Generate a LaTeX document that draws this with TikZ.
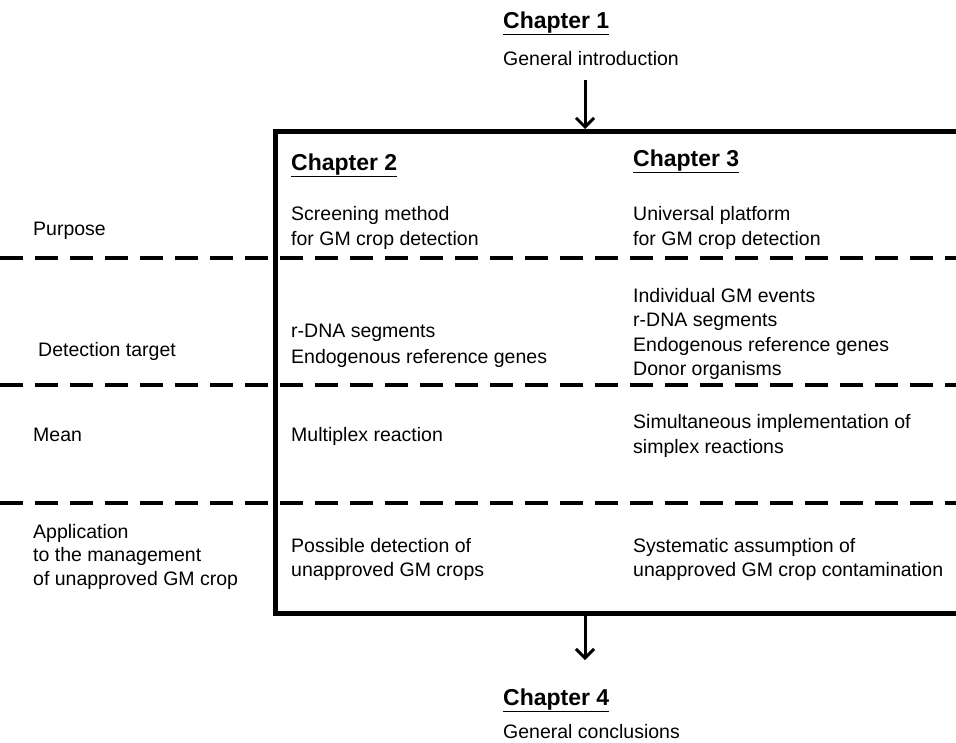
\documentclass[tikz,border=0pt]{standalone}
\usepackage{fontspec}
\setmainfont{Liberation Sans}
\usetikzlibrary{arrows.meta}
\begin{document}
\begin{tikzpicture}[x=1pt,y=-1pt,
  body/.style={anchor=base west,inner sep=0pt,font=\fontsize{19.5}{23}\selectfont},
  chap/.style={anchor=base west,inner sep=0pt,font=\fontsize{23}{27}\selectfont\bfseries},
  frame/.style={line width=5pt},
  sepline/.style={line width=4.5pt,dash pattern=on 23pt off 12pt,dash phase=0pt},
  flow/.style={line width=3pt,-{Straight Barb[length=9pt,width=18pt,line width=3pt]}}]
\useasboundingbox (0,0) rectangle (956,742);
% separators
\coordinate (s1a) at (0,258);   \coordinate (s1b) at (960,258);
\coordinate (s2a) at (0,385);   \coordinate (s2b) at (960,385);
\coordinate (s3a) at (0,503);   \coordinate (s3b) at (960,503);
\draw[sepline] (s1a) -- (s1b);
\draw[sepline] (s2a) -- (s2b);
\draw[sepline] (s3a) -- (s3b);
% frame
\coordinate (ftr) at (965,131); \coordinate (ftl) at (275,131);
\coordinate (fbl) at (275,613); \coordinate (fbr) at (965,613);
\draw[frame] (ftr) -- (ftl) -- (fbl) -- (fbr);
% arrows
\coordinate (a1s) at (585,80);  \coordinate (a1e) at (585,129);
\coordinate (a2s) at (585,613); \coordinate (a2e) at (585,660);
\draw[flow] (a1s) -- (a1e);
\draw[flow] (a2s) -- (a2e);
% chapter 1 and 4
\node[chap] (c1) at (503,28) {\underline{Chapter 1}};
\node[body] (c1t) at (503,65) {General introduction};
\node[chap] (c4) at (503,705) {\underline{Chapter 4}};
\node[body] (c4t) at (503,738) {General conclusions};
% headers
\node[chap] (c2) at (291,170) {\underline{Chapter 2}};
\node[chap] (c3) at (633,166) {\underline{Chapter 3}};
% row labels
\node[body] (rp) at (33,235) {Purpose};
\node[body] (rd) at (38,356) {Detection target};
\node[body] (rm) at (33,441) {Mean};
\node[body] (ra1) at (33,538) {Application};
\node[body] (ra2) at (33,561) {to the management};
\node[body] (ra3) at (33,585) {of unapproved GM crop};
% chapter 2 column
\node[body] (p21) at (291,220) {Screening method};
\node[body] (p22) at (291,245) {for GM crop detection};
\node[body] (d21) at (291,337) {r-DNA segments};
\node[body] (d22) at (291,363) {Endogenous reference genes};
\node[body] (m21) at (291,441) {Multiplex reaction};
\node[body] (x21) at (291,552) {Possible detection of};
\node[body] (x22) at (291,576) {unapproved GM crops};
% chapter 3 column
\node[body] (p31) at (633,220) {Universal platform};
\node[body] (p32) at (633,245) {for GM crop detection};
\node[body] (d31) at (633,302) {Individual GM events};
\node[body] (d32) at (633,326) {r-DNA segments};
\node[body] (d33) at (633,351) {Endogenous reference genes};
\node[body] (d34) at (633,375) {Donor organisms};
\node[body] (m31) at (633,428) {Simultaneous implementation of};
\node[body] (m32) at (633,453) {simplex reactions};
\node[body] (x31) at (633,552) {Systematic assumption of};
\node[body] (x32) at (633,576) {unapproved GM crop contamination};
\end{tikzpicture}
\end{document}
